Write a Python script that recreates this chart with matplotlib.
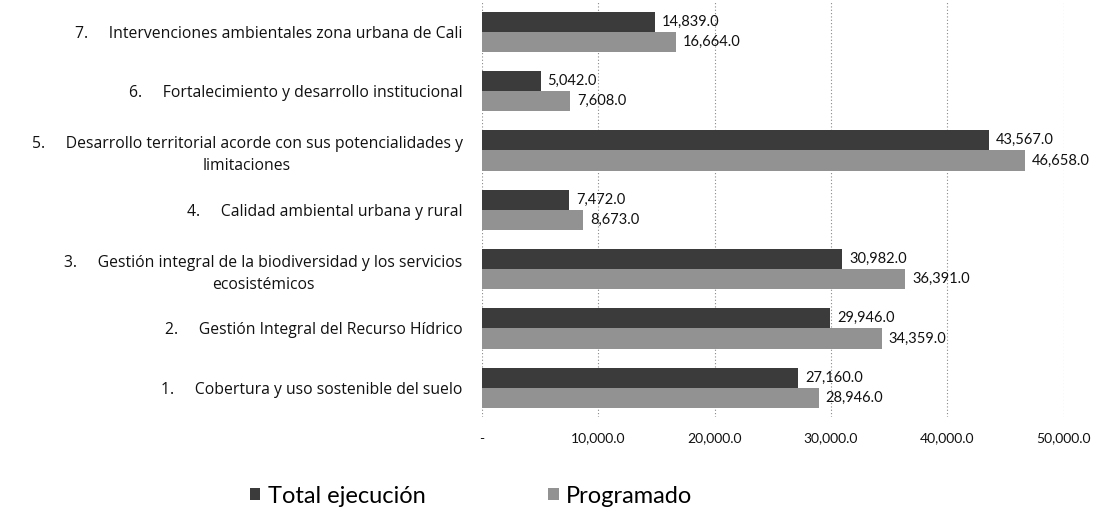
import numpy as np
import matplotlib
matplotlib.use("Agg")
import matplotlib.pyplot as plt
from matplotlib.ticker import FuncFormatter

# categories from bottom (1) to top (7)
categories = [
    "1.     Cobertura y uso sostenible del suelo",
    "2.     Gestión Integral del Recurso Hídrico",
    "3.     Gestión integral de la biodiversidad y los servicios\necosistémicos",
    "4.     Calidad ambiental urbana y rural",
    "5.     Desarrollo territorial acorde con sus potencialidades y\nlimitaciones",
    "6.     Fortalecimiento y desarrollo institucional",
    "7.     Intervenciones ambientales zona urbana de Cali",
]
total_ejecucion = [27160.0, 29946.0, 30982.0, 7472.0, 43567.0, 5042.0, 14839.0]
programado = [28946.0, 34359.0, 36391.0, 8673.0, 46658.0, 7608.0, 16664.0]
x_ticks = [0, 10000, 20000, 30000, 40000, 50000]

plt.rcParams['font.family'] = ['Lato', 'DejaVu Sans']

dark = '#3b3b3b'
light = '#929292'

fig = plt.figure(figsize=(11.08, 5.14), dpi=100)
ax = fig.add_axes([0.435, 0.188, 0.525, 0.808])

y = np.arange(len(categories))
h = 0.34
b1 = ax.barh(y + h/2, total_ejecucion, height=h, color=dark, label='Total ejecución')
b2 = ax.barh(y - h/2, programado, height=h, color=light, label='Programado')

for bars in (b1, b2):
    for rect in bars:
        w = rect.get_width()
        ax.annotate(f'{w:,.1f}', xy=(w, rect.get_y() + rect.get_height()/2),
                    xytext=(5, 0), textcoords='offset points',
                    ha='left', va='center', fontsize=10.5, color='#111111')

ax.set_xlim(0, 50000)
ax.set_ylim(-0.5, len(categories) - 0.5)
ax.set_xticks(x_ticks)
ax.xaxis.set_major_formatter(FuncFormatter(lambda v, p: '-' if v == 0 else f'{v:,.1f}'))
ax.set_yticks(y)
ax.set_yticklabels(categories, family=['Open Sans', 'DejaVu Sans'], fontsize=11.3,
                   multialignment='center', linespacing=1.5)
ax.tick_params(axis='both', length=0, colors='#111111')
ax.tick_params(axis='x', labelsize=10, pad=11)
ax.tick_params(axis='y', pad=14)

ax.grid(axis='x', linestyle=(0, (1, 2)), color='#888888', lw=0.8)
ax.set_axisbelow(True)
for s in ax.spines.values():
    s.set_visible(False)

fig.legend(handles=[b1, b2], loc='center', bbox_to_anchor=(0.425, 0.035),
           ncol=2, frameon=False, fontsize=17, handlelength=0.45, handleheight=0.45,
           handletextpad=0.3, columnspacing=5.2)

fig.savefig('out.png', dpi=100)
